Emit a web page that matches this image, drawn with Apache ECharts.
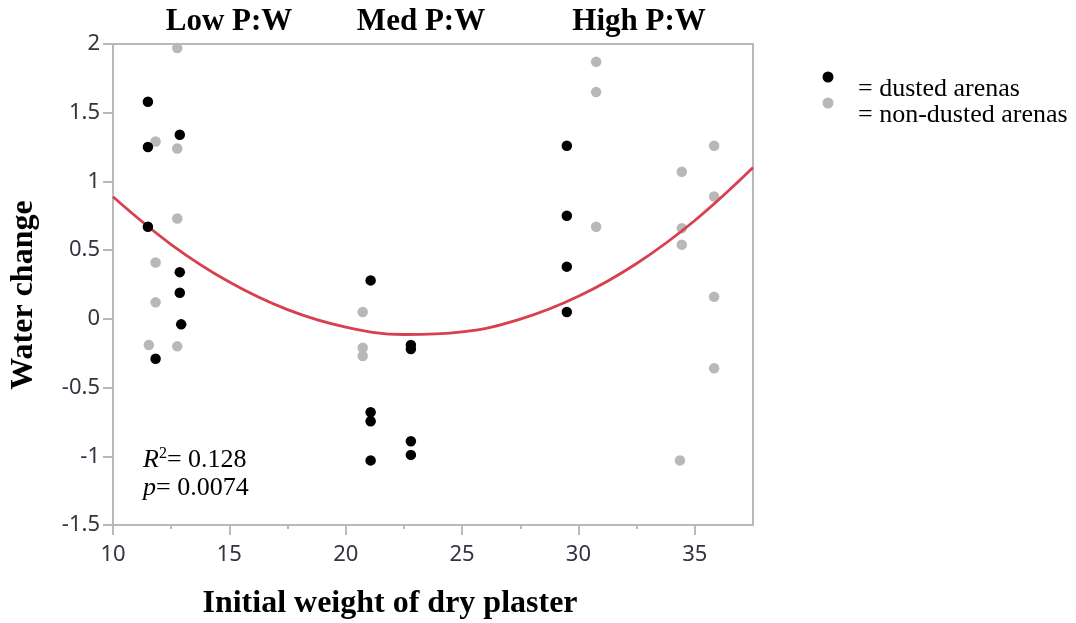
<!DOCTYPE html>
<html>
<head>
<meta charset="utf-8">
<title>Water change vs initial weight of dry plaster</title>
<script src="https://cdn.jsdelivr.net/npm/echarts@6/dist/echarts.min.js"></script>
<style>
  html, body { margin: 0; padding: 0; background: #fff; }
  #chart { width: 1076px; height: 623px; }
</style>
</head>
<body>
<div id="chart"></div>
<script>
// Dusted arenas: initial plaster weight and water change
const dustedWeight = [11.50, 11.50, 11.50, 11.83, 12.87, 12.87, 12.87, 12.93,
                      21.07, 21.07, 21.07, 21.07, 22.80, 22.80, 22.80, 22.80,
                      29.50, 29.50, 29.50, 29.50];
const dustedChange = [1.58, 1.25, 0.67, -0.29, 1.34, 0.34, 0.19, -0.04,
                      0.28, -0.68, -0.745, -1.03, -0.19, -0.22, -0.89, -0.99,
                      1.26, 0.75, 0.38, 0.05];

// Non-dusted arenas
const nonDustedWeight = [11.83, 11.83, 11.83, 11.54, 12.76, 12.76, 12.76, 12.76,
                         20.73, 20.73, 20.73,
                         30.76, 30.76, 30.76, 34.44, 34.44, 34.44, 34.36,
                         35.83, 35.83, 35.83, 35.83];
const nonDustedChange = [1.29, 0.41, 0.12, -0.19, 1.97, 1.24, 0.73, -0.20,
                         0.05, -0.21, -0.27,
                         1.87, 1.65, 0.67, 1.07, 0.66, 0.54, -1.03,
                         1.26, 0.89, 0.16, -0.36];

// Quadratic fit line sampled along the weight axis
const fitWeight = [10, 12.5, 15, 17.5, 20, 22.5, 25, 27.5, 30, 32.5, 35, 37.5];
const fitChange = [0.888, 0.541, 0.268, 0.067, -0.060, -0.114, -0.095, -0.002, 0.164, 0.403, 0.716, 1.101];

// Axis ticks
const xMajorTicks = [10, 15, 20, 25, 30, 35];
const xMinorTicks = [12.5, 17.5, 22.5, 27.5, 32.5];

const groupTitles = ['Low P:W', 'Med P:W', 'High P:W'];
const legendLabels = ['= dusted arenas', '= non-dusted arenas'];
const statLines = ['0.128', '0.0074'];

const pairs = (xs, ys) => xs.map((x, i) => [x, ys[i]]);

const serif = '"Liberation Serif", "Times New Roman", serif';
const tickFont = '"Noto Sans", "Open Sans", sans-serif';
const axisGrey = '#b9b9b9';
const tickText = '#36323f';

const chart = echarts.init(document.getElementById('chart'), null, { renderer: 'canvas' });

const option = {
  backgroundColor: '#ffffff',
  animation: false,
  grid: {
    left: 113, right: 323, top: 44, bottom: 98,
    show: true, borderColor: axisGrey, borderWidth: 2, backgroundColor: 'transparent'
  },
  xAxis: [
    {
      type: 'value', min: 10, max: 37.5, position: 'bottom',
      splitLine: { show: false },
      axisLine: { show: true, onZero: false, lineStyle: { color: axisGrey, width: 2 } },
      axisTick: { show: true, length: 10, customValues: xMajorTicks, lineStyle: { color: axisGrey, width: 2 } },
      axisLabel: { customValues: xMajorTicks, margin: 19, color: tickText, fontFamily: tickFont, fontSize: 22 }
    },
    {
      type: 'value', min: 10, max: 37.5, position: 'bottom', offset: 0,
      splitLine: { show: false },
      axisLine: { show: false, onZero: false },
      axisTick: { show: true, length: 4, customValues: xMinorTicks, lineStyle: { color: axisGrey, width: 2 } },
      axisLabel: { show: false }
    }
  ],
  yAxis: {
    type: 'value', min: -1.5, max: 2, interval: 0.5,
    splitLine: { show: false },
    axisLine: { show: true, onZero: false, lineStyle: { color: axisGrey, width: 2 } },
    axisTick: { show: true, length: 10, lineStyle: { color: axisGrey, width: 2 } },
    axisLabel: { margin: 13, color: tickText, fontFamily: tickFont, fontSize: 22 }
  },
  series: [
    {
      name: 'fit', type: 'line', xAxisIndex: 0,
      data: pairs(fitWeight, fitChange),
      smooth: 0.4, showSymbol: false, symbol: 'none',
      lineStyle: { color: '#d8404f', width: 2.8 }, z: 3
    },
    {
      name: 'non-dusted arenas', type: 'scatter', xAxisIndex: 0,
      data: pairs(nonDustedWeight, nonDustedChange),
      symbolSize: 10.5, itemStyle: { color: '#b8b8b8', opacity: 1 }, z: 2
    },
    {
      name: 'dusted arenas', type: 'scatter', xAxisIndex: 0,
      data: pairs(dustedWeight, dustedChange),
      symbolSize: 10.5, itemStyle: { color: '#000000', opacity: 1 }, z: 4
    }
  ],
  graphic: [
    // group headings above the plot
    { type: 'text', x: 229, y: 22, style: { text: groupTitles[0], font: 'bold 31px ' + serif, fill: '#000', align: 'center', verticalAlign: 'middle' } },
    { type: 'text', x: 421, y: 22, style: { text: groupTitles[1], font: 'bold 31px ' + serif, fill: '#000', align: 'center', verticalAlign: 'middle' } },
    { type: 'text', x: 639, y: 22, style: { text: groupTitles[2], font: 'bold 31px ' + serif, fill: '#000', align: 'center', verticalAlign: 'middle' } },
    // axis titles
    { type: 'text', x: 24, y: 295, rotation: Math.PI / 2, style: { text: 'Water change', font: 'bold 32px ' + serif, fill: '#000', align: 'center', verticalAlign: 'middle' } },
    { type: 'text', x: 390, y: 604, style: { text: 'Initial weight of dry plaster', font: 'bold 32px ' + serif, fill: '#000', align: 'center', verticalAlign: 'middle' } },
    // fit statistics
    {
      type: 'text', x: 143, y: 460,
      style: {
        text: '{i|R}{s|2}{n|= ' + statLines[0] + '}',
        verticalAlign: 'middle', align: 'left',
        rich: {
          i: { font: 'italic 26px ' + serif, fill: '#000', lineHeight: 28 },
          s: { font: '16px ' + serif, fill: '#000', verticalAlign: 'top', lineHeight: 28 },
          n: { font: '26px ' + serif, fill: '#000', lineHeight: 28 }
        }
      }
    },
    {
      type: 'text', x: 143, y: 488,
      style: {
        text: '{i|p}{n|= ' + statLines[1] + '}',
        verticalAlign: 'middle', align: 'left',
        rich: {
          i: { font: 'italic 26px ' + serif, fill: '#000' },
          n: { font: '26px ' + serif, fill: '#000' }
        }
      }
    },
    // legend
    { type: 'circle', shape: { cx: 828, cy: 77, r: 5.5 }, style: { fill: '#000' } },
    { type: 'circle', shape: { cx: 828, cy: 103, r: 5.5 }, style: { fill: '#b8b8b8' } },
    { type: 'text', x: 858, y: 89, style: { text: legendLabels[0], font: '26px ' + serif, fill: '#000', align: 'left', verticalAlign: 'middle' } },
    { type: 'text', x: 858, y: 115, style: { text: legendLabels[1], font: '26px ' + serif, fill: '#000', align: 'left', verticalAlign: 'middle' } }
  ]
};

chart.setOption(option);
</script>
</body>
</html>
